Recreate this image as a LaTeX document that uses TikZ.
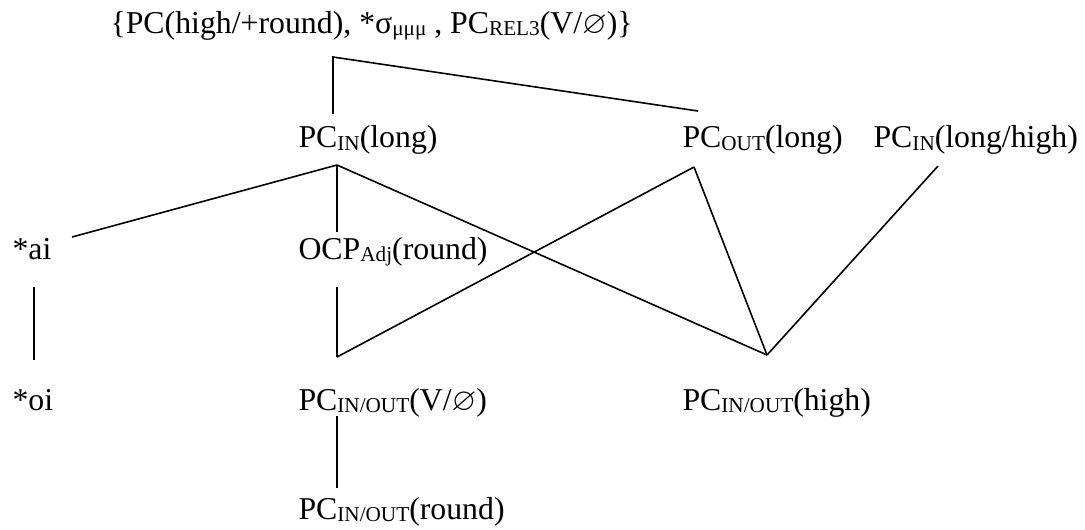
\documentclass[tikz,border=0pt]{standalone}
\usepackage{amssymb}
\usepackage{fontspec}
\setmainfont{Liberation Serif}
\usetikzlibrary{positioning}

\newcommand{\low}[1]{\raisebox{-1pt}{\fontsize{8}{9}\selectfont #1}}

\begin{document}
\begin{tikzpicture}[x=0.3774pt, y=-0.3774pt, font=\fontsize{12}{14}\selectfont,
    lbl/.style={anchor=base west, inner sep=0pt},
    link/.style={line width=0.6pt}]
        \useasboundingbox (0,0) rectangle (1085,529);

        % constraints
        \node[lbl] (set) at (110,33) {\{PC(high/+round), *σ\low{μμμ} , PC\low{REL3}(V/$\varnothing$)\}};
        \node[lbl] (inlong) at (298,147.5) {PC\low{IN}(long)};
        \node[lbl] (outlong) at (682,147.5) {PC\low{OUT}(long)};
        \node[lbl] (inhigh) at (873,147.5) {PC\low{IN}(long/high)};
        \node[lbl] (ai) at (12,259) {*ai};
        \node[lbl] (ocp) at (298,259) {OCP\low{Adj}(round)};
        \node[lbl] (oi) at (12,410) {*oi};
        \node[lbl] (vnull) at (298,410) {PC\low{IN/OUT}(V/$\varnothing$)};
        \node[lbl] (high) at (682,410) {PC\low{IN/OUT}(high)};
        \node[lbl] (round) at (298,519) {PC\low{IN/OUT}(round)};
        \coordinate (fork) at (333,57);

        % rankings
        \draw[link] ([shift={(35,-33.5)}]inlong.base west) -- (fork) -- ([shift={(16,-36.5)}]outlong.base west);
        \draw[link] ([shift={(39,17.5)}]inlong.base west) -- ([shift={(60,-22)}]ai.base west);
        \draw[link] ([shift={(39,17.5)}]inlong.base west) -- ([shift={(39,-27)}]ocp.base west);
        \draw[link] ([shift={(39,17.5)}]inlong.base west) -- ([shift={(85,-55)}]high.base west);
        \draw[link] ([shift={(12,19.5)}]outlong.base west) -- ([shift={(39,-53)}]vnull.base west);
        \draw[link] ([shift={(12,19.5)}]outlong.base west) -- ([shift={(85,-55)}]high.base west);
        \draw[link] ([shift={(65,18.5)}]inhigh.base west) -- ([shift={(85,-55)}]high.base west);
        \draw[link] ([shift={(22,28)}]ai.base west) -- ([shift={(22,-50)}]oi.base west);
        \draw[link] ([shift={(39,28)}]ocp.base west) -- ([shift={(39,-53)}]vnull.base west);
        \draw[link] ([shift={(39,6)}]vnull.base west) -- ([shift={(39,-31)}]round.base west);
    \end{tikzpicture}
\end{document}
